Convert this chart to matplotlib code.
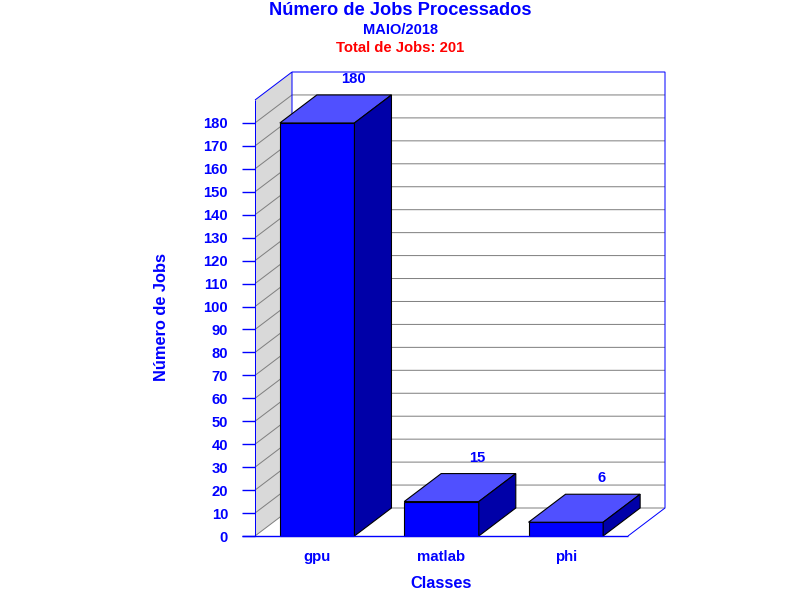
import matplotlib
matplotlib.use("Agg")
import matplotlib.pyplot as plt
from matplotlib.patches import Polygon

categories = ["gpu", "matlab", "phi"]
values = [180, 15, 6]
yticks = list(range(0, 190, 10))

BLUE = "#0000ff"
FRONT = "#0000ff"
TOP = "#5050ff"
SIDE = "#0000a8"
WALL = "#d9d9d9"
GRID = "#808080"

plt.rcParams["font.family"] = ["Liberation Sans", "DejaVu Sans"]
plt.rcParams["font.weight"] = "bold"

W, H = 800, 600
fig = plt.figure(figsize=(8, 6), dpi=100, facecolor="white")
ax = fig.add_axes([255.0 / W, (H - 536.0) / H, 373 / W, 436 / H])
ax.set_xlim(0, len(categories))
ax.set_ylim(0, 190)
for s in ax.spines.values():
    s.set_visible(False)
ax.patch.set_visible(False)

dx = 37 / (373 / len(categories))
dy = 28 / (436 / 190)
bw = 0.6
ymax = 190
PX = 0.72


def line(xs, ys, color, lw=PX, z=1):
    ax.plot(xs, ys, color=color, lw=lw, clip_on=False, zorder=z,
            solid_capstyle="butt", solid_joinstyle="miter")


n = len(categories)
# left wall
ax.add_patch(Polygon([(0, 0), (dx, dy), (dx, ymax + dy), (0, ymax)], closed=True,
                     facecolor=WALL, edgecolor="none", clip_on=False, zorder=0))
# gridlines
for t in yticks:
    line([0, dx, n + dx], [t, t + dy, t + dy], GRID, PX, 1)
# frame
line([0, 0], [0, ymax], BLUE, PX, 2)
line([0, dx, dx], [ymax, ymax + dy, dy], BLUE, PX, 2)
line([dx, n + dx, n + dx, n], [ymax + dy, ymax + dy, dy, 0], BLUE, PX, 2)

# bars
for i, v in enumerate(values):
    l, r = i + 0.5 - bw / 2, i + 0.5 + bw / 2
    ax.bar(i + 0.5, v, width=bw, color=FRONT, edgecolor="black", linewidth=0.8,
           zorder=5, clip_on=False)
    ax.add_patch(Polygon([(l, v), (l + dx, v + dy), (r + dx, v + dy), (r, v)], closed=True,
                         facecolor=TOP, edgecolor="black", lw=0.8, clip_on=False, zorder=5))
    ax.add_patch(Polygon([(r, 0), (r + dx, dy), (r + dx, v + dy), (r, v)], closed=True,
                         facecolor=SIDE, edgecolor="black", lw=0.8, clip_on=False, zorder=5))
    ax.annotate(str(v), (i + 0.5 + dx, v + dy), xytext=(-1, 16), textcoords="offset pixels",
                ha="center", va="center", color=BLUE, fontsize=10.6, fontweight="bold",
                annotation_clip=False, zorder=6)

# axes
ax.set_yticks(yticks)
ax.set_yticklabels([str(t) for t in yticks], fontsize=10.6, fontweight="bold", color=BLUE)
ax.tick_params(axis="y", length=9.4, width=1, color=BLUE, pad=10)
ax.set_xticks([i + 0.5 for i in range(n)])
ax.set_xticklabels(categories, fontsize=10.8, fontweight="bold", color=BLUE)
ax.tick_params(axis="x", length=0, pad=10.2)
line([-13 / (373 / n), n], [0, 0], BLUE, 1, 7)

fig.text(441 / W, 1 - 583 / H, "Classes", ha="center", va="center",
         fontsize=11.8, fontweight="bold", color=BLUE)
fig.text(162 / W, 1 - 317 / H, "Número de Jobs", rotation=90, ha="center", va="center",
         fontsize=11.8, fontweight="bold", color=BLUE)

fig.text(400 / W, 1 - 10.5 / H, "Número de Jobs Processados", ha="center", va="center",
         fontsize=13.15, fontweight="bold", color=BLUE)
fig.text(400 / W, 1 - 30 / H, "MAIO/2018", ha="center", va="center",
         fontsize=10.5, fontweight="bold", color=BLUE)
fig.text(400 / W, 1 - 47.5 / H, "Total de Jobs: 201", ha="center", va="center",
         fontsize=10.7, fontweight="bold", color="#ff0000")

fig.savefig("out.png", dpi=100)
